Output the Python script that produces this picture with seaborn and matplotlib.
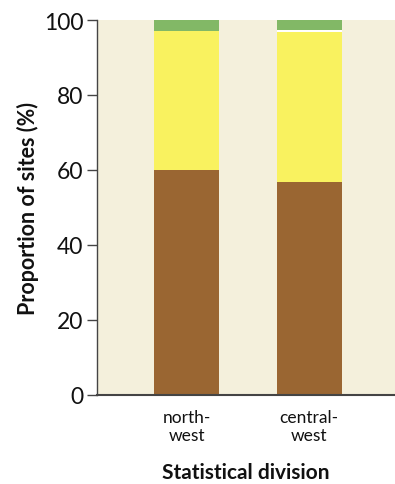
import matplotlib
matplotlib.use("Agg")
import matplotlib.pyplot as plt
import seaborn as sns
import numpy as np
import pandas as pd

divisions = ["north-\nwest", "central-\nwest"]
brown_vals = [60.0, 56.8]
yellow_vals = [37.1, 40.1]
white_vals = [0.0, 0.35]
green_vals = [2.9, 2.75]

colors = {"brown": "#9a6632", "yellow": "#f9f25f", "white": "#ffffff", "green": "#82b866"}
bg = "#f4f0dc"

sns.set_theme(style="white")
plt.rcParams["font.family"] = ["Lato", "DejaVu Sans"]

fig = plt.figure(figsize=(3.95, 4.85), dpi=100)
ax = fig.add_axes([97/395, 1 - 396/485, 1 - 97/395, 375/485])
ax.set_facecolor(bg)

b = np.array(brown_vals)
y = np.array(yellow_vals)
w = np.array(white_vals)
g = np.array(green_vals)
layers = [
    ("green", b + y + w + g),
    ("white", b + y + w),
    ("yellow", b + y),
    ("brown", b),
]
for name, vals in layers:
    df = pd.DataFrame({"division": divisions, "value": vals})
    sns.barplot(data=df, x="division", y="value", color=colors[name],
                width=0.53, saturation=1, ax=ax, linewidth=0, errorbar=None)

ax.set_xlim(-0.73, 1.70)
ax.set_ylim(0, 100)
ax.set_yticks([0, 20, 40, 60, 80, 100])
ax.tick_params(axis="y", which="both", direction="out", length=7, width=1,
               color="#444444", labelsize=16.5, pad=3, left=True, labelcolor="#111111")
ax.tick_params(axis="x", length=0, labelsize=12.5, pad=10, labelcolor="#111111")
for s in ["top", "right"]:
    ax.spines[s].set_visible(False)
ax.spines["left"].set_color("#444444")
ax.spines["bottom"].set_color("#444444")
ax.spines["left"].set_linewidth(1)
ax.spines["bottom"].set_linewidth(1.5)
ax.set_ylabel("Proportion of sites (%)", fontsize=15.5, fontweight="bold", labelpad=3, color="#111111")
ax.set_xlabel("Statistical division", fontsize=15, fontweight="bold", labelpad=13, color="#111111")

fig.savefig("out.png", dpi=100)
